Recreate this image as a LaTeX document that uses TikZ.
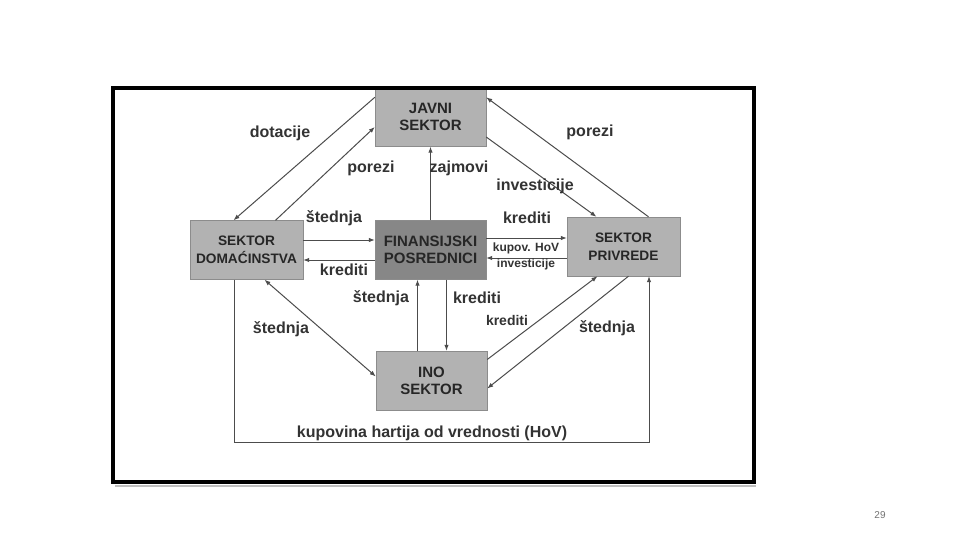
\documentclass[tikz,border=0pt]{standalone}
\usepackage{fontspec}
\setmainfont{Liberation Sans}
\usetikzlibrary{arrows.meta}

\begin{document}
\begin{tikzpicture}[>={Latex[length=6pt,width=4.5pt]}, x=1pt, y=-1pt,
    sector/.style={draw=black!45, fill=black!30, minimum width=111pt, minimum height=59pt,
        inner sep=0pt, align=center, text=black!85, font=\fontsize{15}{17}\selectfont\bfseries},
    narrowsector/.style={sector, minimum width=113pt, font=\fontsize{13.7}{18}\selectfont\bfseries},
    flow/.style={draw=black!70, line width=1pt},
    lbl/.style={text=black!80, inner sep=0pt, font=\fontsize{16}{18}\selectfont\bfseries},
    smalllbl/.style={lbl, font=\fontsize{12}{14}\selectfont\bfseries}]
    % Page
    \useasboundingbox (0,0) rectangle (960,540);
    \fill[white] (0,0) rectangle (960,540);

    % Sectors
    \node[sector] (javni) at (430.5,117) {JAVNI\\SEKTOR};
    \node[narrowsector] (domac) at (246.5,250) {SEKTOR\\DOMAĆINSTVA};
    \node[sector, fill=black!47] (finans) at (430.5,250) {FINANSIJSKI\\POSREDNICI};
    \node[narrowsector] (privr) at (623.5,246.5) {SEKTOR\\PRIVREDE};
    \node[sector] (ino) at (431.5,380.5) {INO\\SEKTOR};

    % Javni sektor
    \draw[flow, ->] ([yshift=-10pt]javni.north west) -- ([xshift=-13pt]domac.north);
    \draw[flow, ->] ([xshift=29pt]domac.north) -- ([yshift=-10pt]javni.west);
    \draw[flow, ->] (finans.north) -- (javni.south);
    \draw[flow, ->] ([xshift=25pt]privr.north) -- ([yshift=-10pt]javni.north east);
    \draw[flow, ->] ([yshift=-20pt]javni.east) -- ([xshift=-27pt]privr.north);

    % Domacinstva - posrednici
    \draw[flow, ->] ([yshift=10pt]domac.east) -- ([yshift=10pt]finans.west);
    \draw[flow, ->] ([yshift=-10pt]finans.west) -- ([yshift=-10pt]domac.east);

    % Posrednici - privreda
    \coordinate (fp1) at ([yshift=12pt]finans.east);
    \coordinate (fp2) at ([yshift=-8pt]finans.east);
    \draw[flow, ->] (fp1) -- (fp1 -| privr.west);
    \draw[flow, ->] (fp2 -| privr.west) -- (fp2);

    % Posrednici - ino
    \coordinate (fi1) at ([xshift=-14pt]ino.north);
    \coordinate (fi2) at ([xshift=16pt]finans.south);
    \draw[flow, ->] (fi1) -- (fi1 |- finans.south);
    \draw[flow, ->] (fi2) -- (fi2 |- ino.north);

    % Ino sektor
    \draw[flow, <->] ([xshift=18pt]domac.south) -- ([yshift=4pt]ino.west);
    \draw[flow, ->] ([yshift=21pt]ino.east) -- ([xshift=-26pt]privr.south);
    \draw[flow, ->] ([xshift=5pt]privr.south) -- ([yshift=-8pt]ino.east);

    % Hartije od vrednosti
    \coordinate (hovline) at (0,442);
    \coordinate (h1) at ([xshift=-12.5pt]domac.south);
    \coordinate (h2) at ([xshift=25.5pt]privr.south);
    \draw[flow, ->] (h1) -- (h1 |- hovline) -- (h2 |- hovline) -- (h2);

    % Labels
    \node[lbl] (tDotacije) at (280,133) {dotacije};
    \node[lbl] (tPoreziL) at (371,168) {porezi};
    \node[lbl] (tZajmovi) at (459,168) {zajmovi};
    \node[lbl] (tPoreziR) at (590,132) {porezi};
    \node[lbl] (tInvest) at (535,186) {investicije};
    \node[lbl] (tStednjaDF) at (334,218) {štednja};
    \node[lbl] (tKreditiFP) at (527,218) {krediti};
    \node[smalllbl] (tKupov) at (526,248) {kupov. HoV};
    \node[smalllbl] (tInvestPF) at (526,264) {investicije};
    \node[lbl] (tKreditiFD) at (344,270) {krediti};
    \node[lbl] (tStednjaIF) at (381,298) {štednja};
    \node[lbl] (tKreditiFI) at (477,298) {krediti};
    \node[smalllbl, font=\fontsize{14}{16}\selectfont\bfseries] (tKreditiIP) at (507,320) {krediti};
    \node[lbl] (tStednjaDI) at (281,329) {štednja};
    \node[lbl] (tStednjaPI) at (607,328) {štednja};
    \node[lbl] (tHoV) at (432,433) {kupovina hartija od vrednosti (HoV)};

    % Frame
    \draw[black!25, line width=2pt] (115,486) -- (756,486);
    \draw[line width=4pt] (113,88) rectangle (754,482);

    % Page number
    \node[text=black!55, font=\fontsize{10}{12}\selectfont] (pagenum) at (880,515) {29};
\end{tikzpicture}
\end{document}
